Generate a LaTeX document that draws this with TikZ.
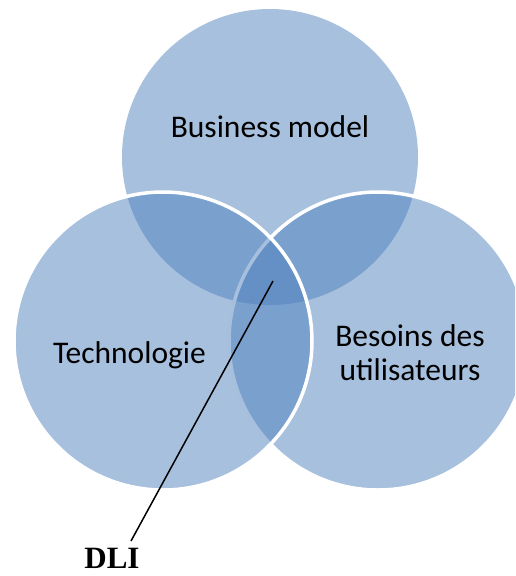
\documentclass[tikz,border=0pt]{standalone}
\usepackage{fontspec}
\setmainfont{Carlito}
\newfontfamily\dlifont{Liberation Serif}
\definecolor{vennblue}{HTML}{4F81BD}
\begin{document}
\begin{tikzpicture}[x=1pt,y=-1pt,
  circ/.style={fill=vennblue, fill opacity=0.5},
  rim/.style={draw=white, line width=3.5pt},
  lbl/.style={font=\fontsize{31.5}{34}\selectfont, text=black, align=center, inner sep=0pt, anchor=base},
  dlistyle/.style={font=\dlifont\bfseries\fontsize{31}{34}\selectfont, text=black, inner sep=0pt, anchor=base},
  leader/.style={draw=black, line width=1.5pt}]
\useasboundingbox (0,0) rectangle (515,576);
\begin{scope}
\clip (0,0) rectangle (515,576);
% top circle
\path[circ] (270,157) circle[radius=148pt];
% right circle
\path[circ] (378,341) circle[radius=149pt];
\path[rim] (378,341) circle[radius=149pt];
% left circle
\path[circ] (163,341) circle[radius=149pt];
\path[rim] (163,341) circle[radius=149pt];
\end{scope}
\node[lbl] (bm) at (270,137) {Business model};
\node[lbl] (tech) at (129.5,363) {Technologie};
\node[lbl] (besoins) at (410,380) {Besoins des\\utilisateurs};
\node[dlistyle] (dli) at (112,568.5) {DLI};
\coordinate (tip) at (273,281);
\coordinate (foot) at (131,541);
\draw[leader] (foot) -- (tip);
\end{tikzpicture}
\end{document}
